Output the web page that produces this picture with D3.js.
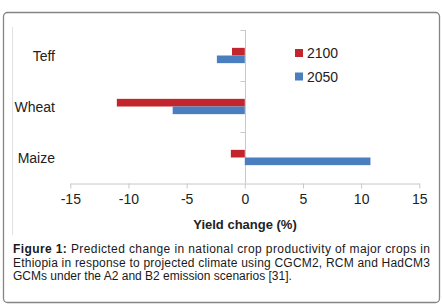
<!DOCTYPE html>
<html lang="en">
<head>
  <meta charset="UTF-8">
  <title>Yield change by crop</title>
  <script src="https://d3js.org/d3.v7.min.js"></script>
  <style>
    body { margin: 0; background: #fff; }
    .axis path, .axis line { stroke: #c8c8c8; }
    .tick-label { font-family: "Liberation Sans", Arial, sans-serif; font-size: 14px; fill: #222; }
    .caption { font-family: "Liberation Sans", Arial, sans-serif; font-size: 12px; fill: #1a1a1a; }
  </style>
</head>
<body>
  <div id="chart"></div>
  <script>
    // data
    const crops = ["Teff", "Wheat", "Maize"];
    const series = ["2100", "2050"];
    const values2100 = [-1.1, -11.0, -1.2];
    const values2050 = [-2.4, -6.2, 10.8];
    const xTicks = [-15, -10, -5, 0, 5, 10, 15];
    const colors = { "2100": "#c3252c", "2050": "#4a7ebf" };

    const captionLines = [
      "Predicted change in national crop productivity of major crops in",
      "Ethiopia in response to projected climate using CGCM2, RCM and HadCM3",
      "GCMs under the A2 and B2 emission scenarios [31]."
    ];

    const W = 442, H = 306;
    const svg = d3.select("#chart").append("svg")
      .attr("width", W).attr("height", H);

    // outer frame
    svg.append("rect")
      .attr("x", 3.5).attr("y", 12.5)
      .attr("width", 436).attr("height", 290)
      .attr("rx", 4)
      .attr("fill", "none").attr("stroke", "#858585").attr("stroke-width", 1.3);

    // chart area left border
    svg.append("line")
      .attr("x1", 12.5).attr("x2", 12.5).attr("y1", 27).attr("y2", 235)
      .attr("stroke", "#e2e2e2");

    const x = d3.scaleLinear().domain([-15, 15]).range([70.3, 419.3]);
    const y = d3.scaleBand().domain(crops).range([30, 183])
      .paddingInner(0.7).paddingOuter(0.35);
    const ySub = d3.scaleBand().domain(series).range([0, y.bandwidth()]);

    const rows = crops.map((c, i) => ({ crop: c, "2100": values2100[i], "2050": values2050[i] }));

    // x axis (plain hyphen for negatives, like the original)
    const xAxis = svg.append("g")
      .attr("class", "axis")
      .attr("transform", "translate(0,183.5)")
      .call(d3.axisBottom(x).tickValues(xTicks).tickFormat(d => String(d))
        .tickSize(5).tickSizeOuter(0).tickPadding(6));
    xAxis.selectAll("text").attr("class", "tick-label").attr("font-size", null).attr("font-family", null);

    // y axis at zero, ticks between categories
    const zx = Math.round(x(0)) + 0.5;
    const yAx = svg.append("g").attr("class", "axis");
    yAx.append("line").attr("x1", zx).attr("x2", zx).attr("y1", 30).attr("y2", 183);
    const bounds = [30, 30 + y.step(), 30 + 2 * y.step()];
    yAx.selectAll(".yt").data(bounds).enter().append("line")
      .attr("x1", zx - 5).attr("x2", zx)
      .attr("y1", d => Math.round(d) + 0.5).attr("y2", d => Math.round(d) + 0.5);

    // category labels
    svg.selectAll(".cat").data(crops).enter().append("text")
      .attr("class", "tick-label")
      .attr("x", 55).attr("y", d => y(d) + y.bandwidth() / 2 + 5)
      .attr("text-anchor", "end")
      .text(d => d);

    // bars
    series.forEach(s => {
      svg.selectAll(".bar-" + s).data(rows).enter().append("rect")
        .attr("x", d => x(Math.min(0, d[s])))
        .attr("y", d => y(d.crop) + ySub(s))
        .attr("width", d => Math.abs(x(d[s]) - x(0)))
        .attr("height", ySub.bandwidth())
        .attr("fill", colors[s]);
    });

    // axis title
    svg.append("text")
      .attr("x", 245).attr("y", 229)
      .attr("text-anchor", "middle")
      .attr("font-family", "Liberation Sans, Arial, sans-serif")
      .attr("font-size", 13).attr("font-weight", "bold").attr("fill", "#222")
      .text("Yield change (%)");

    // legend
    const legend = svg.append("g").selectAll("g").data(series).enter().append("g")
      .attr("transform", (d, i) => `translate(295,${49 + i * 23.5})`);
    legend.append("rect").attr("width", 8).attr("height", 8).attr("fill", d => colors[d]);
    legend.append("text").attr("class", "tick-label")
      .attr("x", 12).attr("y", 9).text(d => d);

    // caption
    const baselines = [253, 266.5, 280];
    captionLines.forEach((line, i) => {
      const t = svg.append("text").attr("class", "caption")
        .attr("x", 13).attr("y", baselines[i]);
      if (i === 0) {
        t.append("tspan").attr("font-weight", "bold").text("Figure 1: ");
      }
      t.append("tspan").text(line);
      if (i < 2) t.attr("textLength", 417).attr("lengthAdjust", "spacing");
    });
  </script>
</body>
</html>
